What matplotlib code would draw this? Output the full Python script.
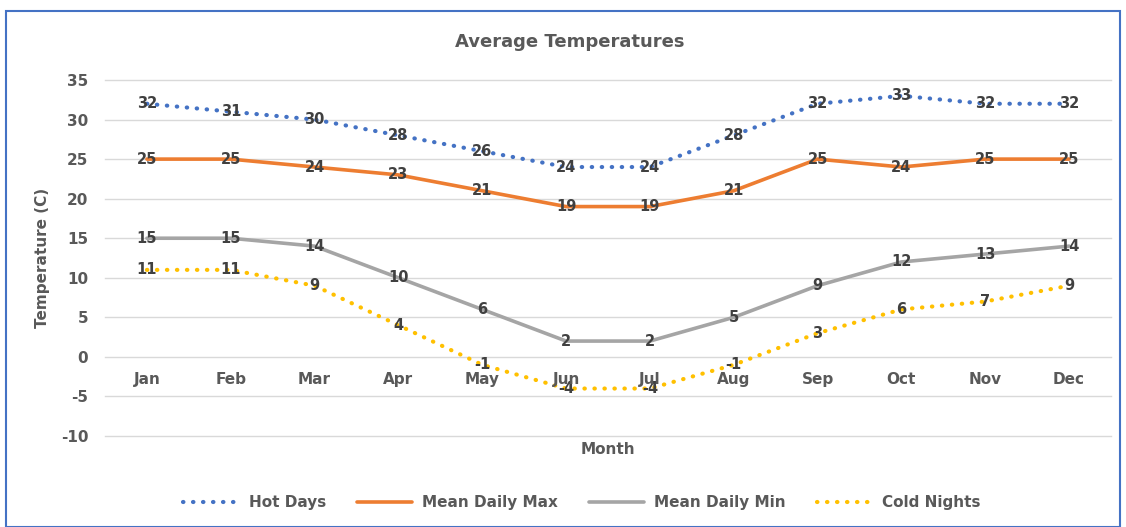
import matplotlib.pyplot as plt
from matplotlib.patches import Rectangle
from matplotlib.ticker import FuncFormatter

months = ["Jan", "Feb", "Mar", "Apr", "May", "Jun", "Jul", "Aug", "Sep", "Oct", "Nov", "Dec"]
hot_days = [32, 31, 30, 28, 26, 24, 24, 28, 32, 33, 32, 32]
mean_max = [25, 25, 24, 23, 21, 19, 19, 21, 25, 24, 25, 25]
mean_min = [15, 15, 14, 10, 6, 2, 2, 5, 9, 12, 13, 14]
cold_nights = [11, 11, 9, 4, -1, -4, -4, -1, 3, 6, 7, 9]

DOTS = (0, (0.1, 2.3))
SERIES = [
    ("Hot Days", hot_days, "#4472C4", DOTS, 3.0),
    ("Mean Daily Max", mean_max, "#ED7D31", "-", 2.6),
    ("Mean Daily Min", mean_min, "#A5A5A5", "-", 2.6),
    ("Cold Nights", cold_nights, "#FFC000", DOTS, 3.0),
]

TEXT = "#595959"
LABEL = "#404040"

fig = plt.figure(figsize=(11.26, 5.27), dpi=100)
ax = fig.add_axes([105 / 1126, 1 - 436 / 527, 1006 / 1126, 356 / 527])

x = list(range(len(months)))
for name, vals, color, ls, lw in SERIES:
    ax.plot(x, vals, color=color, linestyle=ls, linewidth=lw,
            dash_capstyle="round", solid_capstyle="round", label=name)
    for xi, v in zip(x, vals):
        ax.text(xi, v, str(v), ha="center", va="center", fontsize=10.5,
                fontweight="bold", color=LABEL)

ax.set_xlim(-0.5, 11.5)
ax.set_ylim(-10, 35)
ax.set_yticks(range(-10, 40, 5))
ax.yaxis.set_major_formatter(FuncFormatter(lambda v, p: f"{int(v)}"))
ax.grid(axis="y", color="#D9D9D9", linewidth=1)
for gl in ax.yaxis.get_gridlines():
    gl.set_clip_on(False)
ax.set_axisbelow(True)
for s in ax.spines.values():
    s.set_visible(False)
ax.tick_params(axis="both", length=0, colors=TEXT, labelsize=11)
ax.tick_params(axis="y", pad=12)
for t in ax.get_yticklabels():
    t.set_fontweight("bold")
ax.set_xticks([])

# category labels sit just under the zero line (axis crosses at 0)
for xi, m in zip(x, months):
    ax.text(xi, -2.8, m, ha="center", va="center", fontsize=11,
            fontweight="bold", color=TEXT)

ax.set_ylabel("Temperature (C)", fontsize=11, fontweight="bold", color=TEXT)
ax.yaxis.set_label_coords((50 - 105) / 1006, 0.5)
fig.text(608 / 1126, 1 - 450 / 527, "Month", ha="center", va="center",
         fontsize=11, fontweight="bold", color=TEXT)
fig.text(570 / 1126, 1 - 42 / 527, "Average Temperatures", ha="center", va="center",
         fontsize=13, fontweight="bold", color=TEXT)

fig.legend(loc="center", bbox_to_anchor=(582 / 1126, 1 - 503 / 527), ncol=4,
           frameon=False, handlelength=3.6, handletextpad=0.7, columnspacing=2.0,
           labelcolor=TEXT, prop={"weight": "bold", "size": 11})

fig.patches.append(Rectangle((6 / 1126, 0), 1114 / 1126, 1 - 11 / 527,
                             transform=fig.transFigure, fill=False,
                             edgecolor="#4472C4", linewidth=1.5))

fig.savefig("out.png", dpi=100)
